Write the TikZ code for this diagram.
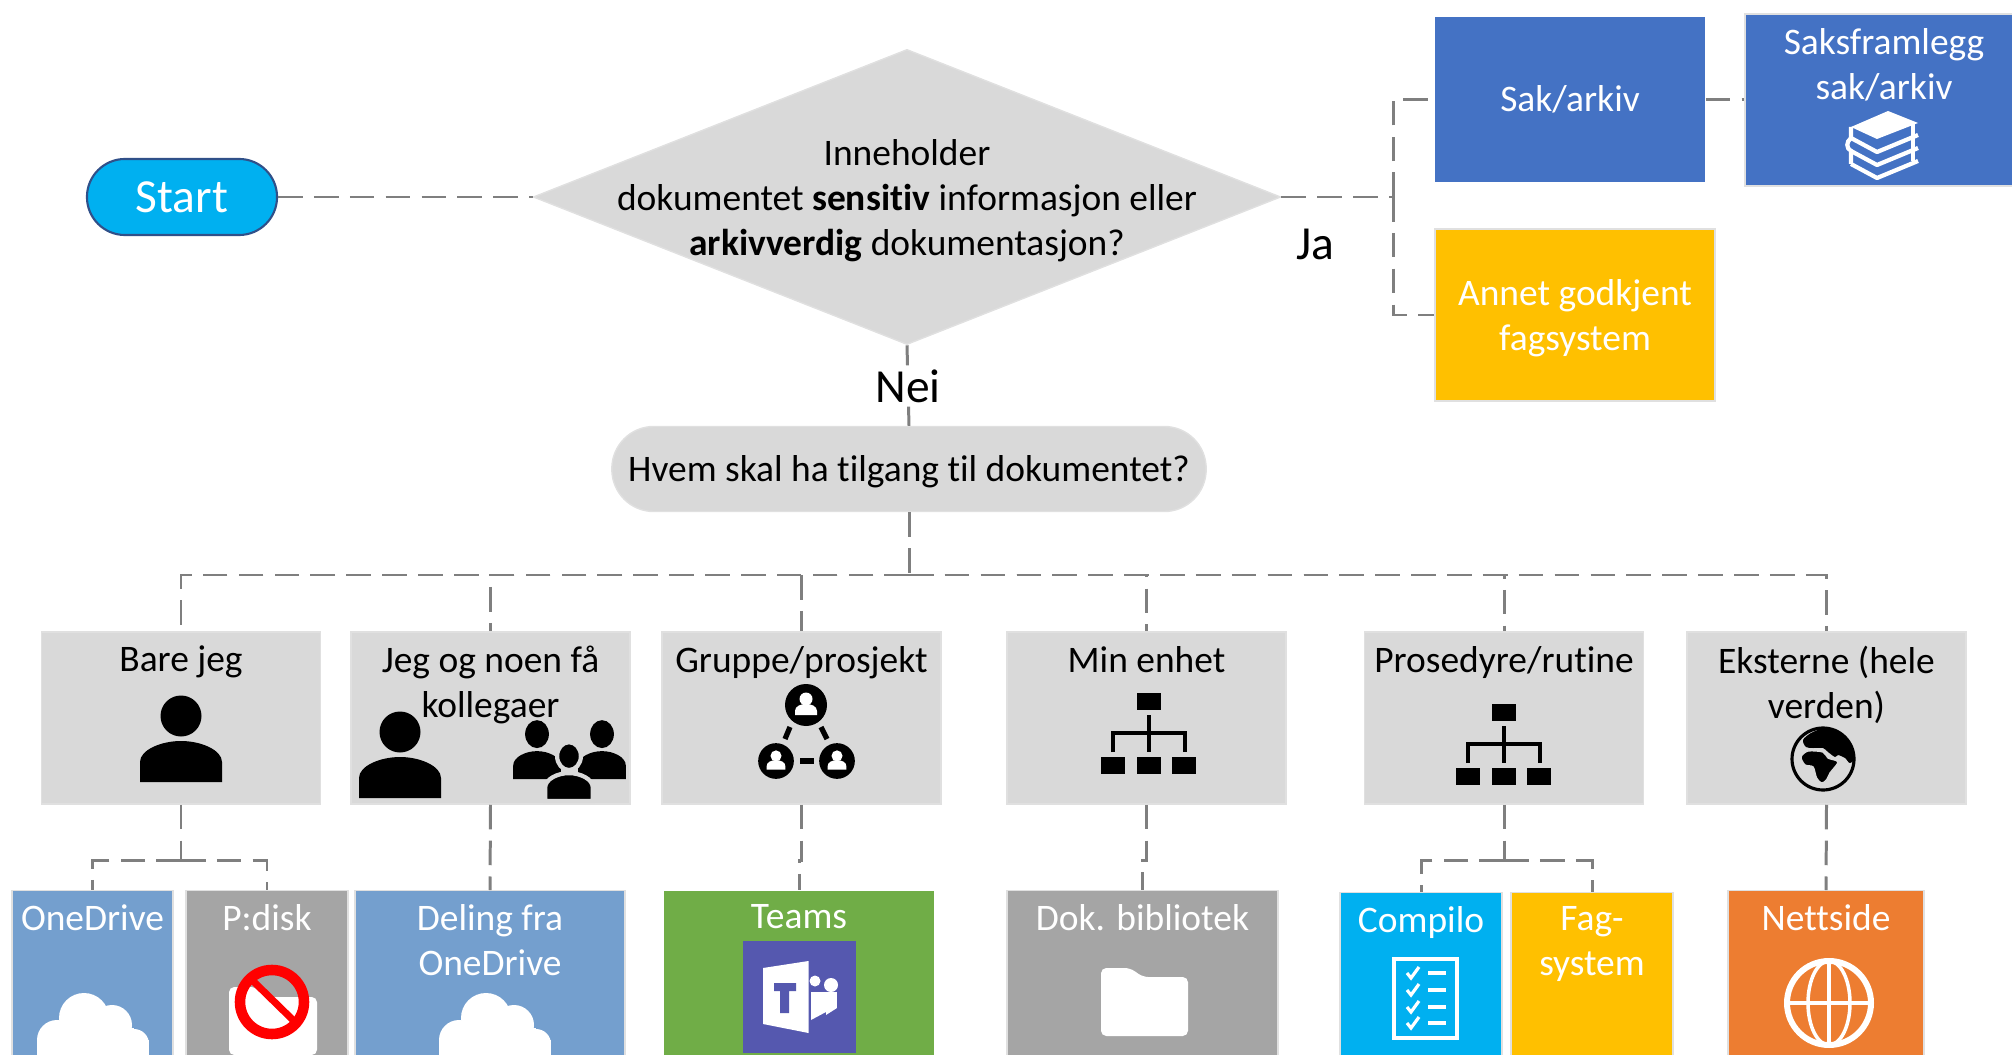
\documentclass[tikz,border=0pt]{standalone}
\usepackage{fontspec}
\setmainfont{Carlito}[Ligatures=NoCommon]
\usetikzlibrary{shapes.geometric}
\definecolor{boxgray}{HTML}{D9D9D9}
\definecolor{linegray}{HTML}{7F7F7F}
\definecolor{saksblue}{HTML}{4472C4}
\definecolor{driveblue}{HTML}{749FCE}
\definecolor{diskgray}{HTML}{A5A5A5}
\definecolor{skyblue}{HTML}{00B0F0}
\definecolor{sunyellow}{HTML}{FFC000}
\definecolor{teamsgreen}{HTML}{70AD47}
\definecolor{teamspurple}{HTML}{5558AF}
\definecolor{weborange}{HTML}{ED7D31}
\newcommand{\boxfont}{\fontsize{10.65}{12.8}\selectfont}
\newcommand{\bigfont}{\fontsize{13.5}{16}\selectfont}
\tikzset{
  conn/.style={draw=linegray,line width=0.85pt,dash pattern=on 7pt off 3.2pt},
  block/.style={inner sep=0pt,font=\boxfont,align=center,draw=black!12,line width=0.4pt},
  midtext/.style={inner sep=0pt,yshift=-0.8pt,font=\boxfont,align=center},
  toptext/.style={anchor=north,inner sep=0pt,yshift=-4pt,font=\boxfont,align=center},
  whotext/.style={toptext,text=black},
  usetext/.style={toptext,text=white},
  who/.style={block,fill=boxgray,minimum width=2.79cm,minimum height=1.72cm},
  use/.style={block,anchor=north,minimum height=2.2cm},
  personicon/.pic={
    \path[fill=black,pic actions] (-41,0) -- (-41,-20) .. controls (-41,-32) and (-20,-41) .. (0,-41)
      .. controls (20,-41) and (41,-32) .. (41,-20) -- (41,0) -- cycle;
    \path[fill=black,pic actions] (0,-66) circle (20.5);
  },
  dotperson/.pic={
    \fill[black] (0,0) circle (21);
    \fill[white] (0,-6) circle (6.5);
    \fill[white] (-11,10) -- (-11,6) .. controls (-11,1) and (-5,-1) .. (0,-1)
      .. controls (5,-1) and (11,1) .. (11,6) -- (11,10) -- cycle;
  },
  orgicon/.pic={
    \fill[black] (-12,-40) rectangle (12,-23);
    \draw[black,line width=1.2pt] (0,-18) -- (0,19);
    \draw[black,line width=1.2pt] (-36,19) -- (-36,0) -- (36,0) -- (36,19);
    \foreach \x in {-48,-12,23}
      \fill[black] (\x,24) rectangle ++(24,17);
  },
  cloudicon/.pic={
    \fill[white] (0,0) circle (25);
    \fill[white] (28,7) circle (20);
    \fill[white] (-27,22) circle (20);
    \fill[white] (50,26) circle (15);
    \fill[white] (-27,10) rectangle (50,50);
    \fill[white] (-47,22) rectangle (65,50);
  },
  folderdrop/.style={fill=white,rounded corners=1.5pt},
}
\begin{document}
\begin{tikzpicture}[x=0.01cm,y=-0.01cm]
  \useasboundingbox (0,0) rectangle (2012,1055);
  \clip (0,0) rectangle (2012,1055);

  \node[fill=skyblue,draw=saksblue!70!black,line width=0.6pt,rounded corners=0.38cm,minimum width=1.9cm,
    minimum height=0.76cm,text=white,font=\bigfont] (start) at (182,197) {Start};
  \node[diamond,fill=boxgray,draw=black!12,inner sep=0pt,aspect=2.53,minimum width=7.47cm,minimum height=2.95cm,
    label={[midtext,yshift=-0.3pt]center:Inneholder\\dokumentet \textbf{sensitiv} informasjon eller\\\textbf{arkivverdig} dokumentasjon?}]
    (asks) at (907,197) {};
  \node[block,fill=saksblue,draw=none,text=white,minimum width=2.7cm,minimum height=1.65cm] (sak) at (1570,99.5) {Sak/arkiv};
  \node[block,fill=saksblue,text=white,minimum width=2.78cm,minimum height=1.72cm,label={[usetext]north:Saksframlegg\\sak/arkiv}]
    (saks) at (1884,100) {};
  \node[block,fill=sunyellow,minimum width=2.8cm,minimum height=1.72cm,
    label={[midtext,text=white]center:Annet godkjent\\fagsystem}] (annet) at (1575,315) {};
  \node[font=\bigfont] (ja) at (1315,244) {Ja};
  \node[font=\bigfont,fill=white,inner sep=1pt] (nei) at (908,386) {Nei};
  \node[block,fill=boxgray,draw=black!12,rounded corners=0.42cm,minimum width=5.94cm,minimum height=0.85cm,
    label={[midtext]center:Hvem skal ha tilgang til dokumentet?}] (hvem) at (909,469) {};

  \node[who,label={[whotext]north:Bare jeg}] (bare) at (181,718) {};
  \node[who,label={[whotext]north:Jeg og noen få\\kollegaer}] (noen) at (490.5,718) {};
  \node[who,label={[whotext]north:Gruppe/prosjekt}] (gruppe) at (801.5,718) {};
  \node[who,label={[whotext]north:Min enhet}] (enhet) at (1146.5,718) {};
  \node[who,label={[whotext]north:Prosedyre/rutine}] (rutine) at (1504,718) {};
  \node[who,label={[whotext]north:Eksterne (hele\\verden)}] (eksterne) at (1826.5,718) {};

  \node[use,fill=driveblue,minimum width=1.61cm,label={[usetext]north:OneDrive}] (onedrive) at (92.5,890) {};
  \node[use,fill=diskgray,minimum width=1.62cm,label={[usetext]north:{P:disk}}] (pdisk) at (267,890) {};
  \node[use,fill=driveblue,minimum width=2.7cm,label={[usetext]north:Deling fra\\OneDrive}] (deling) at (490,890) {};
  \node[use,fill=teamsgreen,draw=none,minimum width=2.7cm,label={[usetext]north:Teams}] (teams) at (799,890) {};
  \node[use,fill=diskgray,minimum width=2.71cm,label={[usetext]north:Dok. bibliotek}] (dok) at (1142.5,890) {};
  \node[use,fill=skyblue,minimum width=1.62cm,label={[usetext]north:Compilo}] (compilo) at (1421,892) {};
  \node[use,fill=sunyellow,minimum width=1.62cm,label={[usetext]north:Fag-\\system}] (fag) at (1592,892) {};
  \node[use,fill=weborange,minimum width=1.96cm,label={[usetext]north:Nettside}] (nettside) at (1826,890) {};

  \coordinate (jafork) at (1393,197);
  \coordinate (bus) at (909,575);
  \draw[conn] (start) -- (asks);
  \draw[conn] (asks.east) -- (jafork);
  \draw[conn] (jafork) |- (sak.west);
  \draw[conn] (jafork) |- (annet.west);
  \draw[conn] (sak) -- (sak -| saks.west);
  \draw[conn] (asks.south) -- (nei);
  \draw[conn] (nei) -- (hvem.north);
  \draw[conn] (hvem.south) -- (bus);
  \foreach \n in {bare,noen,gruppe,enhet,rutine,eksterne}
    \draw[conn] (bus) -| (\n.north);
  \foreach \a/\b in {noen/deling,eksterne/nettside}
    \draw[conn] (\a.south) -- (\b.north);
  \foreach \a/\b in {gruppe/teams,enhet/dok}
    \draw[conn] (\a.south) -- ++(0,56) -| (\b.north);
  \foreach \a/\b/\c in {bare/onedrive/pdisk,rutine/compilo/fag}{
    \draw[conn] (\a.south) -- ++(0,56) coordinate (fork);
    \draw[conn] (fork) -| (\b.north);
    \draw[conn] (fork) -| (\c.north);
  }

  % gray boxes
  \pic at (181,782) {personicon};
  \pic at (400,798) {personicon};
  \pic[xscale=0.58,yscale=0.68] at (537,779) {personicon};
  \pic[xscale=0.58,yscale=0.68] at (602,779) {personicon};
  \pic[xscale=0.58,yscale=0.68,draw=boxgray,line width=1.2pt] at (569,801) {personicon};
  \draw[black,line width=1.5pt] (790,727) -- (785,739);
  \draw[black,line width=1.5pt] (821,727) -- (827,739);
  \draw[black,line width=1.5pt] (800,761) -- (814,761);
  \pic at (806,705) {dotperson};
  \pic[scale=0.85] at (776,761) {dotperson};
  \pic[scale=0.85] at (837,761) {dotperson};
  \pic at (1149,733) {orgicon};
  \pic at (1504,744) {orgicon};
  \begin{scope}[shift={(1823,759)}]
    \begin{scope}
      \clip (0,0) circle (31);
      \fill[black] plot[smooth cycle,tension=0.5] coordinates {(-20,-19) (-12,-26) (2,-31) (20,-31) (33,-16) (33,-2) (27,4)
        (22,-1) (15,-4) (12,-2) (5,-7) (0,-11) (-10,-11) (-17,-12)};
    \end{scope}
    \fill[black,draw=boxgray,line width=0.4pt] plot[smooth cycle,tension=0.5] coordinates {(-22,-2) (-15,-8) (0,-7) (5,-1) (15,3)
      (7,14) (3.5,21) (-1.5,24) (-6.5,19) (-10,8) (-18,6)};
    \draw[black,line width=0.9pt] (0,0) circle (31);
  \end{scope}

  % books
  \begin{scope}[shift={(1884,145)}]
    \fill[white] (4,-34) -- (34,-22) -- (-7,-6) -- (-33,-18) -- cycle;
    \foreach \d in {0,13,26}
      \draw[white,line width=1.2pt,line join=round] (-33,-7+\d) -- (-7,7+\d) -- (34,-10+\d);
    \draw[white,line width=1.2pt] (29,-22) -- (29,16);
    \draw[white,line width=1.2pt] (-33,-18) -- (-33,-7) .. controls (-38,-3) and (-38,3) .. (-33,6) -- (-33,19);
  \end{scope}

  % clouds
  \pic at (84,1018) {cloudicon};
  \pic at (486,1018) {cloudicon};

  % disk
  \fill[white,rounded corners=1.5pt] (229,987) -- (256,987) -- (264,997) -- (317,997) -- (317,1055) -- (229,1055) -- cycle;
  \draw[red,line width=3pt] (272,1002) circle (32);
  \draw[red,line width=2pt] (252,980) -- (295,1022);

  % teams
  \fill[teamspurple] (743,941) rectangle (856,1053);
  \fill[white] (763,968) -- (808.5,961) -- (808.5,1033) -- (763,1024) -- cycle;
  \fill[teamspurple] (774,983) -- (796,983) -- (796,991) -- (789,991) -- (789,1013) -- (780,1013) -- (780,991) -- (774,991) -- cycle;
  \fill[white] (815,981) circle (5.5);
  \fill[white] (831,985) circle (7);
  \fill[white] (811,992) rectangle (826,1012);
  \fill[white] (811,1012) -- (826,1012) -- (811,1020) -- cycle;
  \fill[white] (826,992) rectangle (837,1008);
  \fill[white] (826,1015) -- (837,1008) -- (826,1008) -- cycle;

  % folder
  \fill[folderdrop] (1101,968) -- (1130,968) -- (1143,977) -- (1188,977) -- (1188,1036) -- (1101,1036) -- cycle;

  % checklist
  \draw[white,line width=1.1pt] (1394,959) rectangle (1457,1038);
  \foreach \y in {973,990,1007,1023}{
    \draw[white,line width=0.9pt] (1407,\y) -- (1411,\y+5) -- (1419,\y-6);
    \draw[white,line width=1pt] (1428,\y) -- (1446,\y);
  }

  % web
  \begin{scope}[shift={(1829,1003)}]
    \draw[white,line width=1.7pt] (0,0) circle (42);
    \draw[white,line width=1pt] (0,0) ellipse (21 and 42);
    \draw[white,line width=1pt] (0,-42) -- (0,42);
    \draw[white,line width=1pt] (-42,0) -- (42,0);
  \end{scope}
\end{tikzpicture}
\end{document}
